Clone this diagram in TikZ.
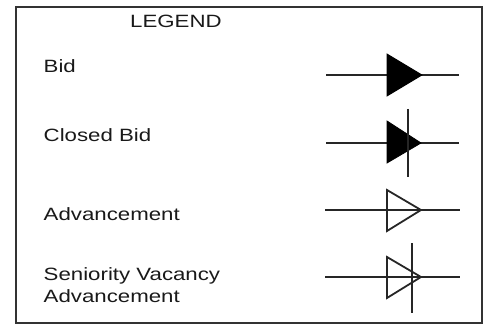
\documentclass[tikz,border=0pt]{standalone}
\usepackage{fontspec}
\setmainfont{Liberation Sans}[FakeStretch=1.25]
\begin{document}
\begin{tikzpicture}[x=1pt,y=-1pt,
  lbl/.style={anchor=base west, inner sep=0pt, text=black!90,
              font=\fontsize{17.8}{21}\selectfont},
  frame/.style={draw=black!80, line width=2.2pt},
  wire/.style={draw=black!85, line width=2.2pt},
  tick/.style={draw=black!85, line width=2pt},
  solidtri/.style={fill=black, draw=black, line width=0.8pt, line join=miter},
  opentri/.style={draw=black!85, line width=1.8pt, line join=miter}]
  \useasboundingbox (0,0) rectangle (487,326);

  % legend frame
  \draw[frame] (16,7) rectangle (482,323);

  % texts
  \node[lbl] (title) at (130,27.3) {LEGEND};
  \node[lbl] (bid) at (43.5,73) {Bid};
  \node[lbl] (cbid) at (43.5,142) {Closed Bid};
  \node[lbl] (adv) at (43.5,220) {Advancement};
  \node[lbl] (sva1) at (43.5,280) {Seniority Vacancy};
  \node[lbl] (sva2) at (43.5,302) {Advancement};

  % Bid: line with solid triangle
  \coordinate (b1) at (326,75);
  \coordinate (b2) at (459,75);
  \draw[wire] (b1) -- (b2);
  \filldraw[solidtri] (387,54) -- (422,75) -- (387,96) -- cycle;

  % Closed Bid: solid triangle with crossing bar
  \coordinate (c1) at (326,143);
  \coordinate (c2) at (459,143);
  \draw[wire] (c1) -- (c2);
  \filldraw[solidtri] (387,121) -- (421,143) -- (387,163) -- cycle;
  \coordinate (ct) at (407.5,109);
  \coordinate (cb) at (407.5,177);
  \draw[tick] (ct) -- (cb);

  % Advancement: line with open triangle
  \coordinate (a1) at (325,210);
  \coordinate (a2) at (460,210);
  \draw[wire] (a1) -- (a2);
  \draw[opentri] (387,190) -- (421,210) -- (387,231) -- cycle;

  % Seniority Vacancy Advancement: open triangle with crossing bar
  \coordinate (s1) at (325,277);
  \coordinate (s2) at (460,277);
  \draw[wire] (s1) -- (s2);
  \draw[opentri] (387,257) -- (421,277) -- (387,298) -- cycle;
  \coordinate (st) at (412,243);
  \coordinate (sb) at (412,313);
  \draw[tick] (st) -- (sb);
\end{tikzpicture}
\end{document}
